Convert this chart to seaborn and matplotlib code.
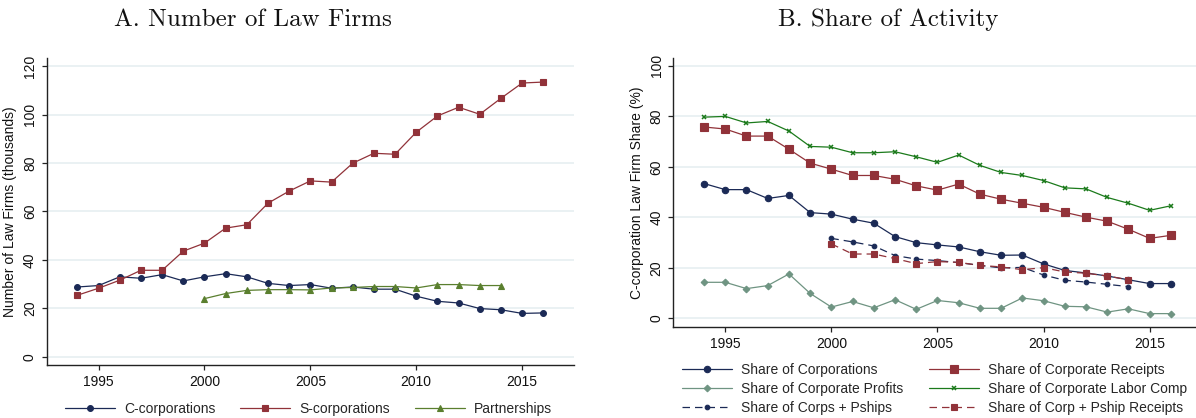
import matplotlib
matplotlib.use("Agg")
import matplotlib.pyplot as plt
import numpy as np
import pandas as pd
import seaborn as sns

# ---- Panel A: number of law firms (thousands) ----
years_a = list(range(1994, 2017))
c_corps = [28.8, 29.4, 33.0, 32.4, 33.9, 31.3, 33.0, 34.3, 33.0, 30.3, 29.4, 29.8,
           28.3, 28.8, 27.9, 27.9, 25.0, 22.9, 22.2, 19.9, 19.4, 17.9, 18.1]
s_corps = [25.4, 28.3, 31.6, 35.7, 35.7, 43.6, 46.9, 53.1, 54.5, 63.4, 68.4, 72.6,
           72.1, 79.9, 84.0, 83.6, 92.7, 99.4, 103.0, 100.1, 106.7, 113.0, 113.4]
years_p = list(range(2000, 2015))
partnerships = [24.0, 26.1, 27.4, 27.7, 27.7, 27.6, 28.4, 28.6, 29.0, 29.0, 28.4,
                29.8, 29.8, 29.4, 29.4]

# ---- Panel B: C-corporation law firm share (%) ----
years_b = list(range(1994, 2017))
share_corps = [53.4, 51.0, 51.0, 47.5, 48.7, 41.9, 41.3, 39.3, 37.7, 32.4, 30.0, 29.1,
               28.3, 26.4, 25.0, 25.1, 21.6, 19.0, 18.0, 16.8, 15.3, 13.8, 13.8]
share_receipts = [75.8, 75.0, 72.2, 72.2, 67.0, 61.5, 59.1, 56.6, 56.6, 55.1, 52.5, 50.8,
                  53.2, 49.2, 47.2, 45.6, 44.0, 42.0, 40.1, 38.5, 35.3, 31.7, 32.9]
share_profits = [14.3, 14.3, 11.8, 13.0, 17.6, 9.9, 4.5, 6.7, 4.2, 7.4, 3.6, 7.1,
                 6.2, 4.0, 4.0, 8.1, 7.0, 4.8, 4.6, 2.5, 3.8, 1.9, 1.9]
share_labor = [79.7, 80.0, 77.4, 78.0, 74.2, 68.1, 67.8, 65.6, 65.6, 66.0, 64.0, 61.8,
               64.7, 60.6, 57.8, 56.6, 54.6, 51.7, 51.3, 47.9, 45.6, 42.8, 44.6]
years_cp = list(range(2000, 2015))
share_corps_pships = [31.7, 30.3, 28.7, 24.9, 23.5, 22.9, 22.1, 21.0, 20.0, 20.2, 17.2,
                      15.1, 14.4, 13.5, 12.6]
share_cp_receipts = [29.5, 25.5, 25.5, 23.7, 21.7, 22.5, 22.2, 21.0, 20.4, 19.3, 20.1,
                     18.4, 17.9, 16.8, 15.3]

NAVY = "#1b2a56"
MAROON = "#913239"
OLIVE = "#5a7f2e"
SAGE = "#6f9482"
GREEN = "#1b7a1b"
GRID = "#e8f0f2"

sns.set_theme(style="white")
plt.rcParams["font.family"] = ["Liberation Sans", "DejaVu Sans"]
plt.rcParams["font.size"] = 10

fig = plt.figure(figsize=(11.96, 4.18), dpi=100)
axA = fig.add_axes([0.03905, 0.12679, 0.4409, 0.7337])
axB = fig.add_axes([0.56296, 0.21770, 0.44172, 0.6428])


def style_axes(ax, yticks, ylim, ylabel):
    ax.set_xlim(1992.55, 2017.45)
    ax.set_ylim(*ylim)
    ax.set_xticks([1995, 2000, 2005, 2010, 2015])
    ax.set_yticks(yticks)
    ax.set_yticklabels([str(t) for t in yticks], rotation=90, va="center")
    for t in yticks:
        ax.axhline(t, color=GRID, lw=1.3, zorder=0)
    for side in ("top", "right"):
        ax.spines[side].set_visible(False)
    for side in ("left", "bottom"):
        ax.spines[side].set_color("#222222")
        ax.spines[side].set_linewidth(1.0)
    ax.tick_params(axis="both", which="major", direction="out", length=3.5,
                   width=0.9, color="#222222", pad=3.5, labelsize=10,
                   labelcolor="#111111", bottom=True, left=True)
    ax.set_xlabel("")
    ax.set_ylabel(ylabel, fontsize=10, labelpad=4, color="#111111")


def series(ax, x, y, color, marker, ms, label, ls="-", mew=0.8):
    sns.lineplot(x=x, y=y, ax=ax, color=color, marker=marker, markersize=ms,
                 markeredgecolor=color, markerfacecolor=color, markeredgewidth=mew,
                 linewidth=0.9, linestyle=ls, label=label, zorder=3)


# Panel A
series(axA, years_a, c_corps, NAVY, "o", 4.2, "C-corporations")
series(axA, years_a, s_corps, MAROON, "s", 4.5, "S-corporations")
series(axA, years_p, partnerships, OLIVE, "^", 4.8, "Partnerships")
style_axes(axA, [0, 20, 40, 60, 80, 100, 120], (-3.4, 123.2),
           "Number of Law Firms (thousands)")
axA.get_legend().remove()
hA, lA = axA.get_legend_handles_labels()
fig.legend(hA, lA, loc="center", bbox_to_anchor=(0.258, 0.021), ncol=3,
           frameon=False, fontsize=10, handlelength=3.6, handletextpad=0.65,
           columnspacing=1.8, borderaxespad=0)

# Panel B
series(axB, years_b, share_corps, NAVY, "o", 4.6, "Share of Corporations")
series(axB, years_b, share_receipts, MAROON, "s", 5.2, "Share of Corporate Receipts")
series(axB, years_b, share_profits, SAGE, "D", 3.4, "Share of Corporate Profits")
series(axB, years_b, share_labor, GREEN, "x", 2.7, "Share of Corporate Labor Comp", mew=1.1)
series(axB, years_cp, share_corps_pships, NAVY, "o", 3.3, "Share of Corps + Pships",
       ls=(0, (6, 4)))
series(axB, years_cp, share_cp_receipts, MAROON, "s", 3.9, "Share of Corp + Pship Receipts",
       ls=(0, (6, 4)))
style_axes(axB, [0, 20, 40, 60, 80, 100], (-3.4, 103.0),
           "C-corporation Law Firm Share (%)")
axB.get_legend().remove()
hB, lB = axB.get_legend_handles_labels()
# two-column legend, filled row by row
hB2 = [hB[0], hB[2], hB[4], hB[1], hB[3], hB[5]]
lB2 = [lB[0], lB[2], lB[4], lB[1], lB[3], lB[5]]
fig.legend(hB2, lB2, loc="upper left", bbox_to_anchor=(0.5705, 0.132), ncol=2,
           frameon=False, fontsize=10, handlelength=3.6, handletextpad=0.65,
           columnspacing=1.8, labelspacing=0.35, borderaxespad=0, borderpad=0)

# Panel titles
fig.text(253 / 1196, 1 - 20 / 418, "A. Number of Law Firms", family="cmr10",
         fontsize=18, ha="center", va="center", color="#111111")
fig.text(888 / 1196, 1 - 20 / 418, "B. Share of Activity", family="cmr10",
         fontsize=18, ha="center", va="center", color="#111111")

fig.savefig("out.png", dpi=100, facecolor="white")
